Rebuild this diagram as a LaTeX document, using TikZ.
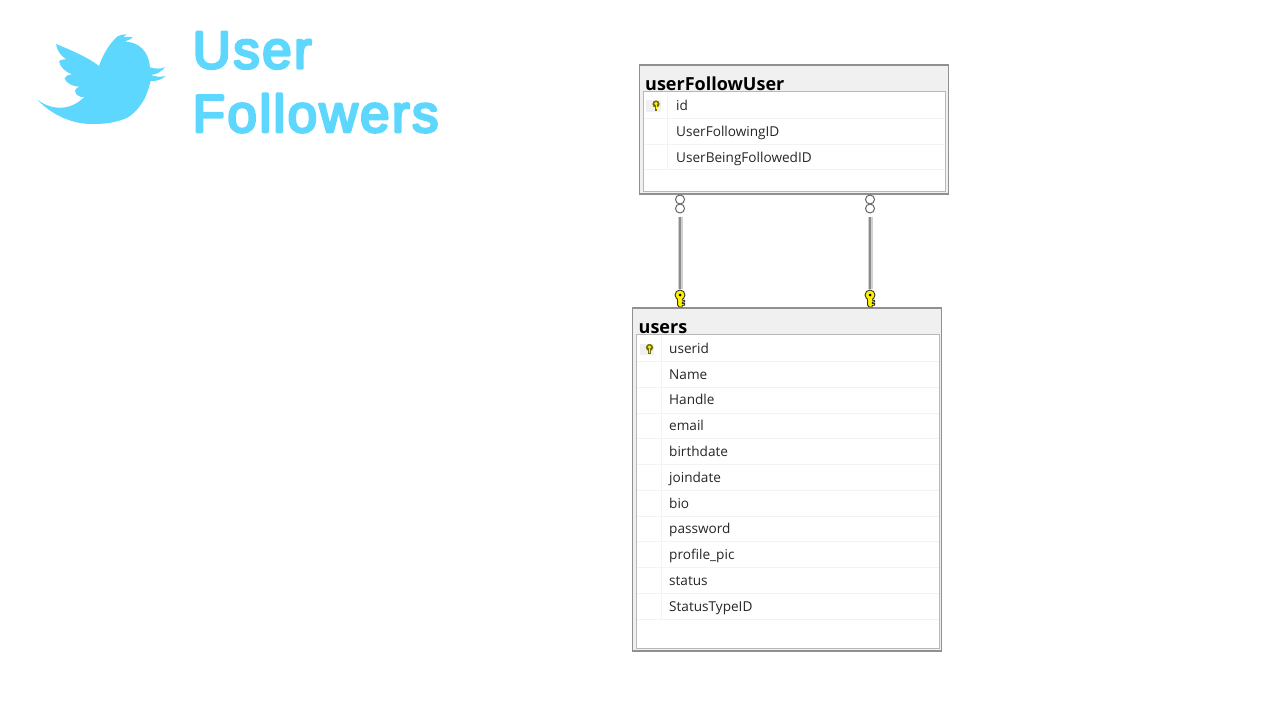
\documentclass[tikz,border=0pt]{standalone}
\usepackage{fontspec}
\setmainfont{Open Sans}
\newfontfamily\headfont{Liberation Sans}[FakeBold=5,LetterSpace=4.5]
\definecolor{tw}{HTML}{5DD7FE}
\definecolor{frame}{HTML}{909090}
\definecolor{innerl}{HTML}{B8B8B8}
\definecolor{headbg}{HTML}{F0F0F0}
\definecolor{sepl}{HTML}{F3F3F3}
\definecolor{keyy}{HTML}{FFF200}
\definecolor{txt}{HTML}{262626}
\tikzset{
  tablebox/.style={draw=frame,line width=1.1pt,fill=headbg,inner sep=0pt,rectangle},
  innerbox/.style={draw=innerl,line width=1pt,fill=white,inner sep=0pt,rectangle},
  titletext/.style={anchor=base west,inner sep=0pt,font=\fontsize{18}{18}\selectfont\bfseries,text=black},
  rowtext/.style={anchor=base west,inner sep=0pt,font=\fontsize{13.6}{14}\selectfont,text=txt},
  headtext/.style={anchor=base west,inner sep=0pt,font=\headfont\fontsize{53}{53}\selectfont\special{pdf:code 1 j 1 J},text=tw},
  sep/.style={draw=sepl,line width=1pt},
  oend/.style={circle,draw=black!60,fill=white,line width=1pt,minimum size=9pt,inner sep=0pt},
  keyanchor/.style={rectangle,minimum width=10pt,minimum height=18pt,inner sep=0pt},
  conn/.style={draw=black!18,line width=5pt,postaction={draw=black!45,line width=1.6pt}},
  bigkey/.pic={
    \fill[keyy,draw=black!80,line width=0.9pt] (-2.4,-1) -- (-2.4,6) -- (-0.8,8) -- (2.2,8) -- (2.2,6.4) -- (4.6,6.2) -- (4.6,4.6) -- (2.2,4.4) -- (2.2,3.2) -- (4.6,3) -- (4.6,1.4) -- (2.2,1.2) -- (2.2,-1) -- cycle;
    \fill[keyy,draw=black!80,line width=0.9pt] (0,-4) circle (5);
    \fill[keyy] (-1.9,-1.6) rectangle (1.7,1.5);
    \fill[black] (0,-4) circle (1.5);
  },
  smallkey/.pic={
    \fill[headbg] (-10,-4.8) rectangle (4.7,6.9);
    \fill[black!55!keyy] (-1.4,0) rectangle (1.4,5.8);
    \fill[black!55!keyy] (0,-1) circle (3.6);
    \fill[keyy!90!white] (0,-1.4) circle (1.7);
    \fill[keyy!90!white] (-0.5,0) rectangle (0.5,4);
  }
}
\begin{document}
\begin{tikzpicture}[x=1pt,y=-1pt]
\useasboundingbox (0,0) rectangle (1280,720);
% bird
\fill[tw] (56,44) .. controls (72,50.5) and (89,58) .. (99,66)
  .. controls (103,54) and (110,43) .. (117.3,36.5)
  .. controls (120,35) and (123.5,34) .. (126.7,34.3)
  .. controls (125.5,35.5) and (124.5,36.5) .. (123.3,37.3)
  .. controls (126.5,36.6) and (130,36.6) .. (132.7,37.3)
  .. controls (131,39) and (129.5,39.8) .. (128.3,40)
  .. controls (126.5,41) and (125,41.5) .. (123.3,41.7)
  .. controls (139,41) and (149,52) .. (150,67.3)
  .. controls (155,69) and (161,69) .. (165,67.3)
  .. controls (162,71) and (157,74.5) .. (151,75)
  .. controls (156,77) and (161,77) .. (165.7,76)
  .. controls (162,79.5) and (156,81.5) .. (150.7,81)
  .. controls (149,88) and (147,93) .. (145,98)
  .. controls (140,107) and (134,114) .. (126.7,118)
  .. controls (115,123) and (104,124) .. (93.3,124)
  .. controls (70,124.5) and (50,113) .. (37.3,99.7)
  .. controls (44,104.5) and (51,107.7) .. (60,107.7)
  .. controls (69,108) and (78,103.5) .. (84.3,97)
  .. controls (79.5,97.5) and (75.5,95) .. (75,90.7)
  .. controls (75.5,88.5) and (77.5,87) .. (80,86.7)
  .. controls (72,86.5) and (66,83) .. (64.7,78.3)
  .. controls (66,75.5) and (69,74) .. (72.3,74.3)
  .. controls (65,72) and (60,67) .. (59,61)
  .. controls (61,59.8) and (63.5,59.2) .. (66,59.3)
  .. controls (60,55) and (57,50) .. (56,44) -- cycle;
% heading
\node[headtext] (h1) at (192.5,68.3) {User};
\node[headtext] (h2) at (192.5,132) {Followers};
% table userFollowUser
\node[tablebox,minimum width=308.5pt,minimum height=129pt] (t1) at (794,129.5) {};
\node[innerbox,minimum width=302pt,minimum height=100pt] (i1) at (794,141) {};
\node[titletext] (t1title) at (645,90.3) {userFollowUser};
\draw[sep] (643.5,118.5) -- (944.5,118.5) (643.5,144) -- (944.5,144) (643.5,169.5) -- (944.5,169.5) (667.5,91.5) -- (667.5,169.5);
\pic at (656,105) {smallkey};
\node[rowtext] (r11) at (676,110) {id};
\node[rowtext] (r12) at (676,136) {UserFollowingID};
\node[rowtext] (r13) at (676,162) {UserBeingFollowedID};
% table users
\node[tablebox,minimum width=308.5pt,minimum height=343pt] (t2) at (787,479.5) {};
\node[innerbox,minimum width=303pt,minimum height=314pt] (i2) at (787.5,491) {};
\node[titletext] (t2title) at (638.5,333.3) {users};
\draw[sep] (636.5,361) -- (938.5,361) (636.5,387) -- (938.5,387) (636.5,413) -- (938.5,413) (636.5,438.5) -- (938.5,438.5) (636.5,464.5) -- (938.5,464.5) (636.5,490) -- (938.5,490) (636.5,516) -- (938.5,516) (636.5,541.5) -- (938.5,541.5) (636.5,567.5) -- (938.5,567.5) (636.5,593) -- (938.5,593) (636.5,619) -- (938.5,619) (661,334.5) -- (661,619);
\pic at (649.5,348.5) {smallkey};
\node[rowtext] (r21) at (669,353) {userid};
\node[rowtext] (r22) at (669,379) {Name};
\node[rowtext] (r23) at (669,404.5) {Handle};
\node[rowtext] (r24) at (669,430) {email};
\node[rowtext] (r25) at (669,456) {birthdate};
\node[rowtext] (r26) at (669,482) {joindate};
\node[rowtext] (r27) at (669,508) {bio};
\node[rowtext] (r28) at (669,533.5) {password};
\node[rowtext] (r29) at (669,559) {profile\_pic};
\node[rowtext] (r210) at (669,585) {status};
\node[rowtext] (r211) at (669,611) {StatusTypeID};
% connectors
\node[oend] (a1) at (680,199.5) {};
\node[oend] (a2) at (680,208.5) {};
\node[oend] (b1) at (870,199.5) {};
\node[oend] (b2) at (870,208.5) {};
\node[keyanchor] (ka) at (680,298) {};
\node[keyanchor] (kb) at (870,298) {};
\path[conn] (a2.south) ++(0,3) -- (ka.north);
\path[conn] (b2.south) ++(0,3) -- (kb.north);
\pic at (680,299) {bigkey};
\pic at (870,299) {bigkey};
\end{tikzpicture}
\end{document}
